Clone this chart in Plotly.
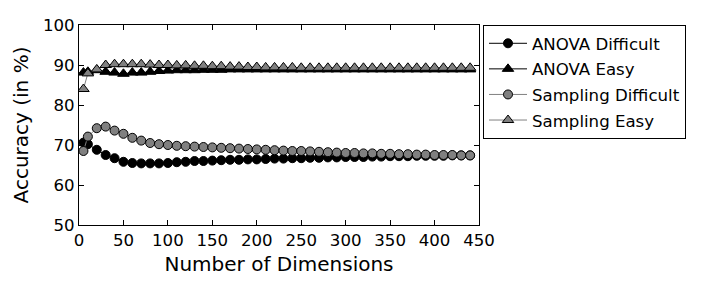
import plotly.graph_objects as go

dims = [5, 10] + list(range(20, 441, 10))

anova_difficult = [70.6, 70.2, 68.8, 67.5, 66.7, 65.8, 65.5, 65.4, 65.4, 65.4,
                   65.5, 65.7, 65.8, 66.0, 66.0, 66.1, 66.2, 66.3, 66.3, 66.4,
                   66.4, 66.5, 66.6, 66.6, 66.7, 66.7, 66.8, 66.8, 66.9, 66.9,
                   67.0, 67.0, 67.0, 67.1, 67.1, 67.2, 67.2, 67.2, 67.3, 67.3,
                   67.3, 67.3, 67.4, 67.4, 67.4]
sampling_difficult = [68.5, 72.1, 74.2, 74.6, 73.6, 72.8, 71.8, 71.1, 70.5, 70.2,
                      70.0, 69.8, 69.7, 69.6, 69.5, 69.4, 69.3, 69.2, 69.1, 69.0,
                      68.9, 68.8, 68.7, 68.6, 68.5, 68.5, 68.4, 68.3, 68.2, 68.1,
                      68.0, 68.0, 67.9, 67.9, 67.8, 67.8, 67.7, 67.7, 67.6, 67.6,
                      67.5, 67.5, 67.5, 67.4, 67.4]
anova_easy = [88.1, 88.3, 88.7, 88.3, 88.1, 87.8, 88.1, 88.1, 88.3, 88.5,
              88.6, 88.7, 88.7, 88.7, 88.8, 88.8, 88.8, 88.9, 88.9, 88.9,
              88.9, 88.9, 88.9, 88.9, 88.9, 88.9, 88.9, 88.9, 88.9, 88.9,
              88.9, 88.9, 88.9, 88.9, 88.9, 88.9, 88.9, 88.9, 88.9, 88.9,
              88.9, 88.9, 88.9, 88.9, 88.9]
sampling_easy = [84.0, 87.9, 88.9, 90.0, 90.2, 90.2, 90.2, 90.2, 90.1, 90.0,
                 90.0, 89.9, 89.9, 89.8, 89.8, 89.7, 89.7, 89.6, 89.6, 89.5,
                 89.5, 89.4, 89.4, 89.4, 89.4, 89.3, 89.3, 89.3, 89.3, 89.3,
                 89.3, 89.3, 89.3, 89.3, 89.3, 89.3, 89.3, 89.3, 89.3, 89.3,
                 89.3, 89.3, 89.3, 89.3, 89.3]

x_ticks = [0, 50, 100, 150, 200, 250, 300, 350, 400, 450]
y_ticks = [50, 60, 70, 80, 90, 100]

series = [
    ("ANOVA Difficult", anova_difficult, "black", "circle"),
    ("ANOVA Easy", anova_easy, "black", "triangle-up"),
    ("Sampling Difficult", sampling_difficult, "#808080", "circle"),
    ("Sampling Easy", sampling_easy, "#808080", "triangle-up"),
]

fig = go.Figure()
for i, (name, vals, col, sym) in enumerate(series):
    fig.add_trace(go.Scatter(
        x=dims, y=vals, name=name, mode="lines+markers",
        line=dict(color=col, width=1),
        marker=dict(symbol=sym, size=9 if sym == "circle" else 10, color=col,
                    line=dict(color="black", width=1)),
        legendgroup=f"g{i}",
    ))

font = dict(family="DejaVu Sans", size=16.6, color="black")
fig.update_layout(
    width=697, height=280,
    margin=dict(l=71, r=226, t=17, b=63, autoexpand=False),
    plot_bgcolor="white", paper_bgcolor="white",
    font=font,
    showlegend=True,
    legend=dict(x=1.01, y=1.0, xanchor="left", yanchor="top",
                bordercolor="black", borderwidth=1, bgcolor="white",
                font=font, tracegroupgap=1, itemwidth=38),
)
fig.update_xaxes(range=[0, 450], tickvals=x_ticks, ticktext=[str(v) for v in x_ticks],
                 ticks="inside", ticklen=5, tickcolor="black", showline=True,
                 linecolor="black", linewidth=1, mirror="ticks", showgrid=False,
                 zeroline=False, title=dict(text="Number of Dimensions", standoff=8),
                 tickfont=font, automargin=False)
fig.update_yaxes(range=[50, 100], tickvals=y_ticks, ticktext=[str(v) for v in y_ticks],
                 ticks="inside", ticklen=5, tickcolor="black", showline=True,
                 linecolor="black", linewidth=1, mirror="ticks", showgrid=False,
                 zeroline=False, title=dict(text="Accuracy (in %)", standoff=8),
                 tickfont=font, automargin=False)

fig.write_html("out.html")
